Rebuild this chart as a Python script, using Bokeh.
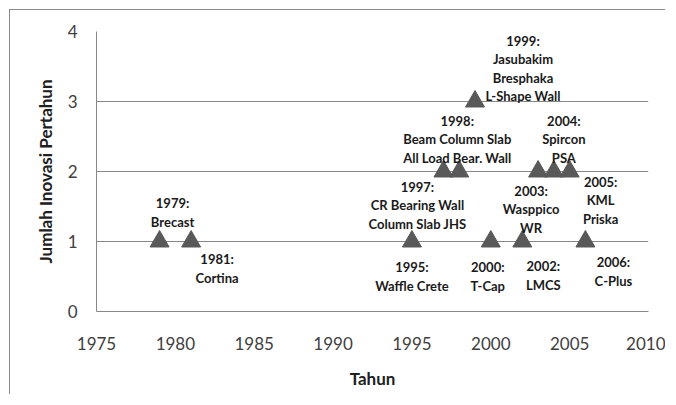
from bokeh.plotting import figure
from bokeh.models import ColumnDataSource, Range1d, FixedTicker
from bokeh.core.properties import value
from bokeh.embed import file_html
from bokeh.resources import INLINE

# ---- data ----
years = [1979, 1981, 1995, 1997, 1998, 1999, 2000, 2002, 2003, 2004, 2005, 2006]
counts = [1, 1, 1, 2, 2, 3, 1, 1, 2, 2, 2, 1]
labels = [
    "1979:\nBrecast",
    "1981:\nCortina",
    "1995:\nWaffle Crete",
    "1997:\nCR Bearing Wall\nColumn Slab JHS",
    "1998:\nBeam Column Slab\nAll Load Bear. Wall",
    "1999:\nJasubakim\nBresphaka\nL-Shape Wall",
    "2000:\nT-Cap",
    "2002:\nLMCS",
    "2003:\nWasppico\nWR",
    "2004:\nSpircon\nPSA",
    "2005:\nKML\nPriska",
    "2006:\nC-Plus",
]
x_ticks = [1975, 1980, 1985, 1990, 1995, 2000, 2005, 2010]
y_ticks = [0, 1, 2, 3, 4]

# label placement (screen pixel offsets from each marker)
label_dx = [13, 26, 0, -26, -2, 48, -3, 21, -7, 10, 31, 28]
label_dy = [-29, 27, 35, 34, -32, -33, 35, 34, 38, -32, 29, 30]

src = ColumnDataSource(dict(x=years, y=counts, label=labels, dx=label_dx, dy=label_dy))

FONT = "Lato"
GRID = "#878787"

p = figure(width=656, height=385, output_backend="svg", toolbar_location=None,
           x_range=Range1d(1975, 2010), y_range=Range1d(0, 4),
           min_border_left=86, min_border_right=18, min_border_top=21, min_border_bottom=84)
p.styles = {"border-left": "1px solid #8a8a8a", "border-top": "1px solid #8a8a8a",
            "margin-left": "9px", "margin-top": "9px"}
p.outline_line_color = None
p.background_fill_color = "white"
p.border_fill_color = "white"

p.xgrid.grid_line_color = None
p.ygrid.grid_line_color = GRID
p.ygrid.ticker = FixedTicker(ticks=y_ticks)

p.xaxis.ticker = FixedTicker(ticks=x_ticks)
p.yaxis.ticker = FixedTicker(ticks=y_ticks)
for ax in (p.xaxis[0], p.yaxis[0]):
    ax.axis_line_color = GRID
    ax.major_tick_line_color = None
    ax.minor_tick_line_color = None
    ax.major_label_text_font = FONT
    ax.major_label_text_font_size = "17px"
    ax.major_label_text_color = "#404040"
    ax.axis_label_text_font = FONT
    ax.axis_label_text_font_size = "17px"
    ax.axis_label_text_font_style = "bold"
    ax.axis_label_text_color = "#202020"
p.xaxis.major_label_standoff = 19
p.yaxis.major_label_standoff = 13
p.xaxis.axis_label = "Tahun"
p.yaxis.axis_label = "Jumlah Inovasi Pertahun"
p.xaxis.axis_label_standoff = 15
p.yaxis.axis_label_standoff = 9

p.scatter("x", "y", source=src, marker="triangle", size=19,
          fill_color="#595959", line_color="#595959")

p.text("x", "y", text="label", source=src, x_offset="dx", y_offset="dy",
       text_font=value(FONT), text_font_size="13px", text_font_style="bold",
       text_align="center", text_baseline="middle", text_line_height=1.15,
       text_color="#1a1a1a")

open("out.html", "w").write(file_html(p, INLINE))
